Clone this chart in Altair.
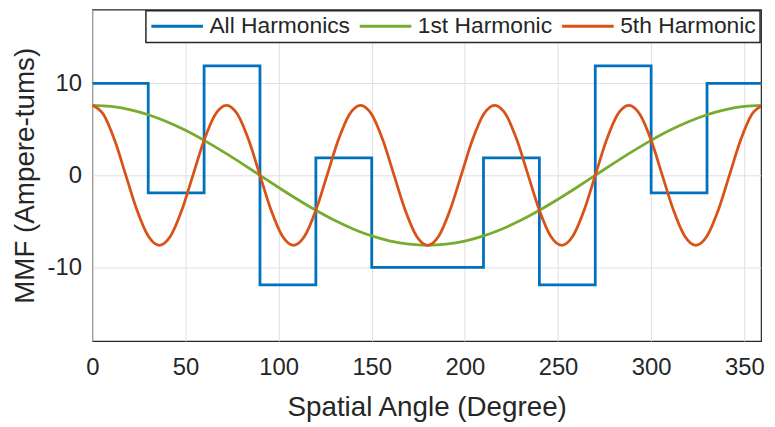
import altair as alt
import pandas as pd

# Series names
series_names = ["All Harmonics", "1st Harmonic", "5th Harmonic"]
series_colors = ["#0072BD", "#77AC30", "#D95319"]

# All harmonics: stepped MMF (level starts at each edge)
step_x = [0, 30, 60, 90, 120, 150, 210, 240, 270, 300, 330, 360]
step_y = [10, -1.9, 11.9, -11.9, 1.9, -10, 1.9, -11.9, 11.9, -1.9, 10, 10]

# 1st harmonic, read every 10 degrees
h1_x = list(range(0, 361, 10))
h1_y = [7.6, 7.48, 7.14, 6.58, 5.82, 4.89, 3.8, 2.6, 1.32, 0.0,
        -1.32, -2.6, -3.8, -4.89, -5.82, -6.58, -7.14, -7.48, -7.6,
        -7.48, -7.14, -6.58, -5.82, -4.89, -3.8, -2.6, -1.32, 0.0,
        1.32, 2.6, 3.8, 4.89, 5.82, 6.58, 7.14, 7.48, 7.6]

# 5th harmonic, read every 6 degrees
h5_x = list(range(0, 361, 6))
h5_y = [7.6, 6.6, 3.8, 0.0, -3.8, -6.6, -7.6, -6.6, -3.8, 0.0, 3.8, 6.6,
        7.6, 6.6, 3.8, 0.0, -3.8, -6.6, -7.6, -6.6, -3.8, 0.0, 3.8, 6.6,
        7.6, 6.6, 3.8, 0.0, -3.8, -6.6, -7.6, -6.6, -3.8, 0.0, 3.8, 6.6,
        7.6, 6.6, 3.8, 0.0, -3.8, -6.6, -7.6, -6.6, -3.8, 0.0, 3.8, 6.6,
        7.6, 6.6, 3.8, 0.0, -3.8, -6.6, -7.6, -6.6, -3.8, 0.0, 3.8, 6.6,
        7.6]

x_ticks = [0, 50, 100, 150, 200, 250, 300, 350]
y_ticks = [-10, 0, 10]

df_all = pd.DataFrame({"x": step_x, "y": step_y, "series": series_names[0]})
df_h1 = pd.DataFrame({"x": h1_x, "y": h1_y, "series": series_names[1]})
df_h5 = pd.DataFrame({"x": h5_x, "y": h5_y, "series": series_names[2]})

FONT = "Liberation Sans"
TXT = "#262626"

x_enc = alt.X("x:Q", scale=alt.Scale(domain=[0, 359], nice=False, zero=False),
              axis=alt.Axis(values=x_ticks, title="Spatial Angle (Degree)",
                            labelPadding=34, labelBaseline="alphabetic",
                            labelFlush=False, labelOverlap=False,
                            labelExpr="'' + datum.value",
                            titleY=75, titleBaseline="alphabetic"))
y_enc = alt.Y("y:Q", scale=alt.Scale(domain=[-18, 18], nice=False),
              axis=alt.Axis(values=y_ticks, title="MMF (Ampere-tums)",
                            labelPadding=11, labelExpr="'' + datum.value",
                            labelFlush=False,
                            titleX=-67, titleBaseline="middle"))
color_enc = alt.Color("series:N",
                      scale=alt.Scale(domain=series_names, range=series_colors),
                      legend=alt.Legend(title=None, orient="top-right",
                                        direction="horizontal", columns=3))

base_props = dict(strokeWidth=2.8, clip=True)

l_all = alt.Chart(df_all).mark_line(interpolate="step-after", **base_props).encode(
    x=x_enc, y=y_enc, color=color_enc)
l_h1 = alt.Chart(df_h1).mark_line(interpolate="monotone", **base_props).encode(
    x=x_enc, y=y_enc, color=color_enc)
l_h5 = alt.Chart(df_h5).mark_line(interpolate="monotone", **base_props).encode(
    x=x_enc, y=y_enc, color=color_enc)

chart = alt.layer(l_all, l_h1, l_h5).properties(
    width=674, height=334,
    background="white",
    autosize=alt.AutoSizeParams(type="none"),
    padding={"left": 85, "top": 0, "right": 6, "bottom": 85},
).configure_view(
    stroke=TXT, strokeWidth=1.2
).configure_axis(
    domain=False, ticks=False, grid=True, gridColor="#dfdfdf", gridWidth=1,
    labelFont=FONT, labelFontSize=24, labelColor=TXT,
    titleFont=FONT, titleFontSize=28, titleFontWeight="normal", titleColor=TXT,
).configure_legend(
    labelFont=FONT, labelFontSize=23, labelColor=TXT, labelLimit=400,
    symbolType="stroke", symbolSize=2704, symbolStrokeWidth=3,
    clipHeight=23,
    labelOffset=5, columnPadding=8, padding=4, offset=1,
    fillColor="white", strokeColor=TXT, strokeWidth=1.5, cornerRadius=0,
)

chart.save("out.html", embed_options={"renderer": "svg", "actions": False})
